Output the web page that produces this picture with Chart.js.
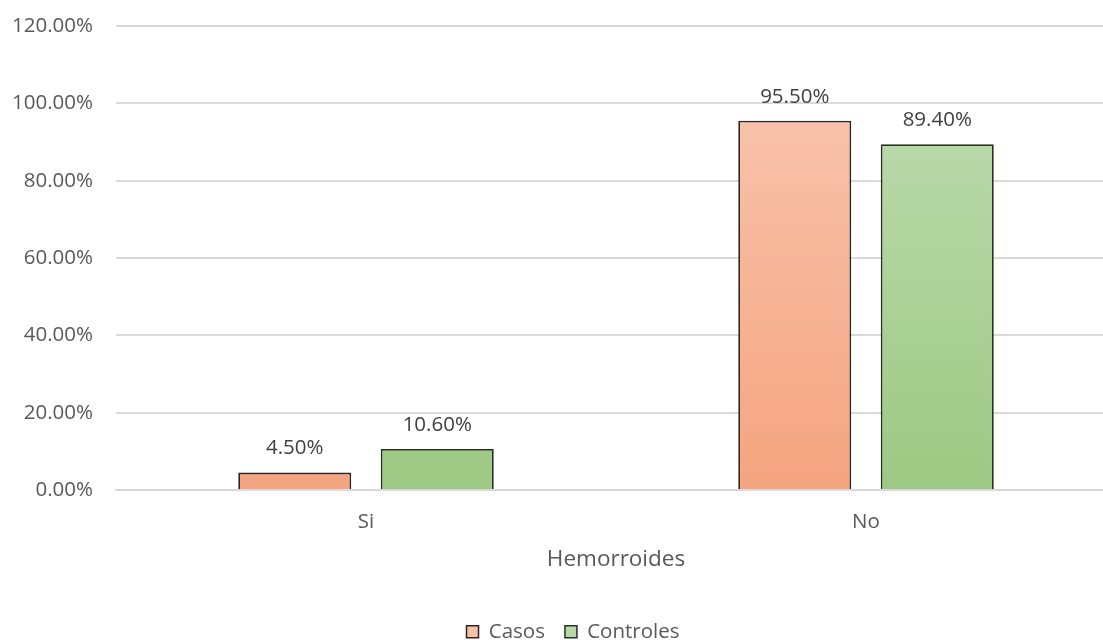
<!DOCTYPE html>
<html>
<head>
<meta charset="utf-8">
<script src="https://cdn.jsdelivr.net/npm/chart.js@4"></script>
<style>
html,body{margin:0;padding:0;overflow:hidden;background:#fff;}
#wrap{position:absolute;left:0;top:0;}
</style>
</head>
<body>
<div id="wrap"><canvas id="c" width="1146" height="652"></canvas></div>
<script>
const categories = ["Si", "No"];
const casos = [4.5, 95.5];
const controles = [10.6, 89.4];
const seriesNames = ["Casos", "Controles"];
const yTicks = [0, 20, 40, 60, 80, 100, 120];
const axisTitle = "Hemorroides";

const FONT = "'Open Sans', 'Liberation Sans', sans-serif";
const gradStops = [
  ["#F8C1A9", "#F5A47F"],
  ["#B8D8A8", "#9CC983"]
];
const borderCols = ["#2b2420", "#26301f"];

const gradientPlugin = {
  id: 'barGradient',
  beforeDatasetsDraw(chart) {
    const ctx = chart.ctx;
    chart.data.datasets.forEach((ds, di) => {
      const meta = chart.getDatasetMeta(di);
      meta.data.forEach(el => {
        const g = ctx.createLinearGradient(0, el.y, 0, el.base);
        g.addColorStop(0, gradStops[di][0]);
        g.addColorStop(1, gradStops[di][1]);
        el.options.backgroundColor = g;
      });
    });
  }
};

const labelPlugin = {
  id: 'valueLabels',
  afterDatasetsDraw(chart) {
    const ctx = chart.ctx;
    ctx.save();
    ctx.font = "20.5px " + FONT;
    ctx.fillStyle = "#404040";
    ctx.textAlign = "center";
    ctx.textBaseline = "middle";
    chart.data.datasets.forEach((ds, di) => {
      const meta = chart.getDatasetMeta(di);
      meta.data.forEach((el, i) => {
        ctx.fillText(ds.data[i].toFixed(2) + "%", el.x, el.y - 24);
      });
    });
    ctx.restore();
  }
};

new Chart(document.getElementById('c'), {
  type: 'bar',
  data: {
    labels: categories,
    datasets: [
      { label: seriesNames[0], data: casos, backgroundColor: gradStops[0][1], borderColor: borderCols[0], borderWidth: 1.8 },
      { label: seriesNames[1], data: controles, backgroundColor: gradStops[1][1], borderColor: borderCols[1], borderWidth: 1.8 }
    ]
  },
  options: {
    responsive: false,
    animation: false,
    devicePixelRatio: 1,
    categoryPercentage: 0.57,
    barPercentage: 0.793,
    layout: { padding: { top: 26, right: 0, left: 0, bottom: 0 } },
    plugins: {
      tooltip: { enabled: false },
      legend: {
        position: 'bottom',
        labels: {
          font: { family: FONT, size: 20.5 },
          color: '#595959',
          boxWidth: 12,
          boxHeight: 12,
          padding: 20,
          generateLabels(chart) {
            return chart.data.datasets.map((ds, i) => ({
              text: ds.label,
              fillStyle: gradStops[i][0],
              strokeStyle: borderCols[i],
              lineWidth: 1.5,
              fontColor: '#595959',
              datasetIndex: i
            }));
          }
        }
      }
    },
    scales: {
      x: {
        grid: { display: false, drawTicks: false },
        border: { display: true, color: '#d9d9d9', width: 2 },
        ticks: { font: { family: FONT, size: 20.5 }, color: '#595959', padding: 20 },
        title: { display: true, text: axisTitle, font: { family: FONT, size: 22.5 }, color: '#595959', padding: { top: 0, bottom: 28 } },
        afterFit(s) { s.height = 111.5; }
      },
      y: {
        min: yTicks[0],
        max: yTicks[yTicks.length - 1],
        afterBuildTicks(s) { s.ticks = yTicks.map(v => ({ value: v })); },
        grid: { color: '#d9d9d9', lineWidth: 2, drawTicks: false },
        border: { display: false },
        ticks: {
          font: { family: FONT, size: 20.5 },
          color: '#595959',
          padding: 23,
          callback: v => Number(v).toFixed(2) + "%"
        },
        afterFit(s) { s.width = 116; s.paddingTop = 0; s.paddingBottom = 0; }
      },
      yRight: {
        position: 'right',
        display: true,
        min: 0,
        max: 120,
        grid: { display: false, drawTicks: false },
        border: { display: false },
        ticks: { display: false },
        afterFit(s) { s.width = 30; s.paddingTop = 0; s.paddingBottom = 0; }
      }
    }
  },
  plugins: [gradientPlugin, labelPlugin]
});
</script>
</body>
</html>
